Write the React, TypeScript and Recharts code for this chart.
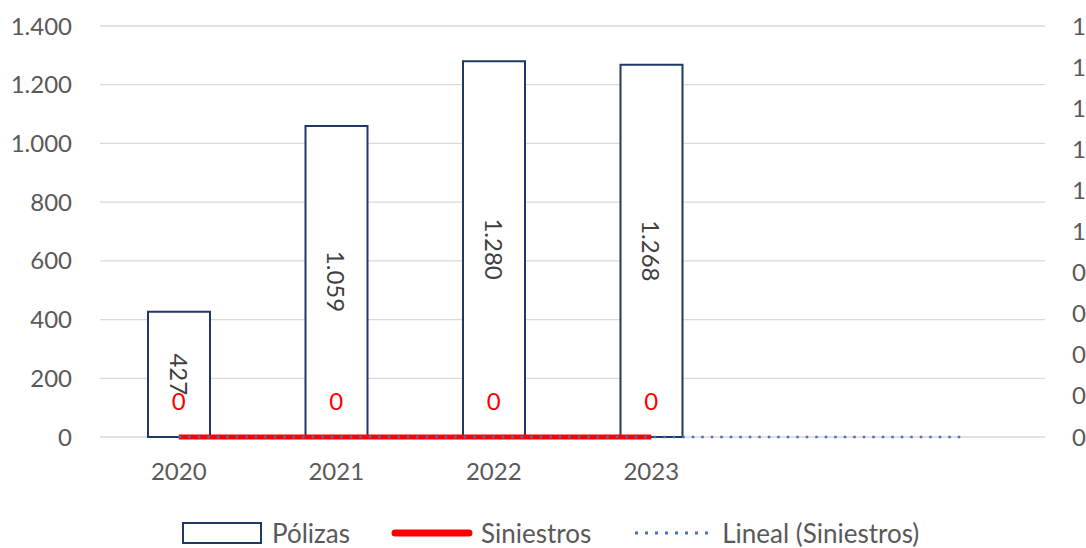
import { Bar, CartesianGrid, ComposedChart, LabelList, Legend, Line, XAxis, YAxis } from "recharts";

const FONT = "Lato, 'Open Sans', sans-serif";

// periods on the category axis; the last two only carry the trend line
const years = ["2020", "2021", "2022", "2023", "", ""];
const polizas = [427, 1059, 1280, 1268];
const siniestros = [0, 0, 0, 0];
const linealSiniestros = [0, 0, 0, 0, 0, 0];

const leftTicks = [0, 200, 400, 600, 800, 1000, 1200, 1400];
const rightTicks = [0, 0.1, 0.2, 0.3, 0.4, 0.5, 0.6, 0.7, 0.8, 0.9, 1];

const rows = years.map((year, i) => ({
  period: i + 1,
  year,
  polizas: polizas[i],
  siniestros: siniestros[i],
  lineal: linealSiniestros[i],
}));

function miles(v: number) {
  return String(v).replace(/\B(?=(\d{3})+(?!\d))/g, ".");
}

function PolizaLabel(props: any) {
  const { x, y, width, height, value } = props;
  if (value == null) return null;
  const cx = Number(x) + Number(width) / 2;
  const cy = Number(y) + Number(height) / 2;
  return (
    <text
      x={cx}
      y={cy}
      transform={`rotate(90 ${cx} ${cy})`}
      textAnchor="middle"
      dominantBaseline="central"
      fill="#404040"
      fontSize={24}
      fontFamily={FONT}
    >
      {miles(value)}
    </text>
  );
}

function SiniestroLabel(props: any) {
  const { x, y, value } = props;
  if (value == null) return null;
  return (
    <text x={x} y={Number(y) - 27} textAnchor="middle" fill="#FF0000" fontSize={24} fontFamily={FONT}>
      {value}
    </text>
  );
}

function ChartLegend() {
  const text = { fontSize: 26, color: "#595959", fontFamily: FONT };
  return (
    <div style={{ display: "flex", alignItems: "center", paddingLeft: 182, height: 30 }}>
      <svg width={80} height={22} style={{ marginRight: 10 }}>
        <rect x={1} y={1} width={78} height={20} fill="#fff" stroke="#203864" strokeWidth={2} />
      </svg>
      <span style={{ ...text, marginRight: 41 }}>Pólizas</span>
      <svg width={82} height={10} style={{ marginRight: 8 }}>
        <line x1={4} y1={5} x2={78} y2={5} stroke="#FF0000" strokeWidth={7} strokeLinecap="round" />
      </svg>
      <span style={{ ...text, marginRight: 43 }}>Siniestros</span>
      <svg width={80} height={10} style={{ marginRight: 8 }}>
        <line x1={1} y1={5} x2={80} y2={5} stroke="#4472C4" strokeWidth={3} strokeDasharray="3 7" />
      </svg>
      <span style={text}>Lineal (Siniestros)</span>
    </div>
  );
}

export default function App() {
  const tick = { fill: "#595959", fontSize: 24, fontFamily: FONT };
  return (
    <div style={{ position: "absolute", left: 0, top: 0, background: "#fff" }}>
      <ComposedChart width={1086} height={548} data={rows} margin={{ top: 26, right: 0, bottom: 0, left: 0 }}>
        <CartesianGrid yAxisId="left" vertical={false} stroke="#D9D9D9" strokeWidth={1.3} />
        <XAxis
          dataKey="period"
          type="category"
          height={81}
          axisLine={false}
          tickLine={false}
          tickSize={0}
          tickMargin={26}
          tick={tick}
          tickFormatter={(_v: any, i: number) => years[i] ?? ""}
          interval={0}
        />
        <YAxis
          yAxisId="left"
          width={100}
          domain={[0, 1400]}
          ticks={leftTicks}
          axisLine={false}
          tickLine={false}
          tickSize={0}
          tickMargin={28}
          tick={tick}
          tickFormatter={miles}
        />
        <YAxis
          yAxisId="right"
          orientation="right"
          width={41}
          domain={[0, 1]}
          ticks={rightTicks}
          axisLine={false}
          tickLine={false}
          tickSize={0}
          tickMargin={27}
          tick={{ ...tick, textAnchor: "start" }}
          tickFormatter={(v: number) => String(Math.round(v))}
        />
        <Legend verticalAlign="bottom" height={30} content={() => <ChartLegend />} wrapperStyle={{ left: 0, width: 1086 }} />
        <Bar
          yAxisId="left"
          dataKey="polizas"
          name="Pólizas"
          barSize={62}
          fill="#FFFFFF"
          stroke="#203864"
          strokeWidth={2}
          isAnimationActive={false}
        >
          <LabelList dataKey="polizas" content={PolizaLabel} />
        </Bar>
        <Line
          yAxisId="right"
          dataKey="siniestros"
          name="Siniestros"
          stroke="#FF0000"
          strokeWidth={5}
          dot={false}
          activeDot={false}
          isAnimationActive={false}
        >
          <LabelList dataKey="siniestros" content={SiniestroLabel} />
        </Line>
        <Line
          yAxisId="right"
          dataKey="lineal"
          name="Lineal (Siniestros)"
          stroke="#4472C4"
          strokeWidth={2.5}
          strokeDasharray="2.5 7"
          dot={false}
          activeDot={false}
          legendType="none"
          isAnimationActive={false}
        />
      </ComposedChart>
    </div>
  );
}
